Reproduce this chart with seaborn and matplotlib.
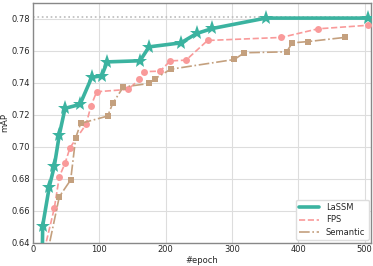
import matplotlib

matplotlib.use("Agg")
import matplotlib.pyplot as plt
import pandas as pd
import seaborn as sns

# epochs / mAP
lassm_epoch = [13, 14.6, 24.6, 32.2, 39.7, 48.3, 70.9, 88.5, 103.6, 112, 161.4, 175, 223, 247, 270.5, 351, 505.7]
lassm_map = [0.600, 0.6506, 0.675, 0.688, 0.7075, 0.724, 0.7265, 0.7434, 0.7444, 0.7531, 0.7538, 0.7625, 0.765, 0.7709, 0.774, 0.7805, 0.7805]

fps_epoch = [14, 32.1, 39.7, 48.3, 55.8, 80, 87.5, 96, 143.8, 160, 168, 191.6, 207, 230.8, 263.3, 374.5, 430, 505]
fps_map = [0.630, 0.6615, 0.6813, 0.6896, 0.6994, 0.714, 0.7256, 0.7344, 0.7359, 0.7421, 0.747, 0.7473, 0.7537, 0.7542, 0.7665, 0.7684, 0.7738, 0.776]

sem_epoch = [20, 39.7, 56.8, 64.4, 71.9, 112.6, 120.2, 136.2, 175.5, 183.5, 207.7, 303.6, 318.7, 382.6, 391, 414.6, 470]
sem_map = [0.630, 0.6688, 0.6792, 0.7056, 0.7146, 0.7192, 0.7271, 0.7374, 0.7396, 0.7425, 0.7485, 0.7546, 0.7588, 0.7594, 0.765, 0.7658, 0.7684]

best_map = 0.781

df = pd.concat([
    pd.DataFrame({"epoch": lassm_epoch, "mAP": lassm_map, "method": "LaSSM"}),
    pd.DataFrame({"epoch": fps_epoch, "mAP": fps_map, "method": "FPS"}),
    pd.DataFrame({"epoch": sem_epoch, "mAP": sem_map, "method": "Semantic"}),
])

sns.set_style("whitegrid")
plt.rcParams["font.family"] = ["DejaVu Sans"]

styles = {
    "LaSSM": dict(color="#3bb3a0", marker="*", markersize=11, lw=2.6, ls="-"),
    "FPS": dict(color="#f99a9a", marker="o", markersize=5, lw=1.2, ls="--"),
    "Semantic": dict(color="#c4a07e", marker="s", markersize=5, lw=1.2, ls="-."),
}

fig, ax = plt.subplots(figsize=(3.73, 2.66), dpi=100)
ax.axhline(best_map, color="#bbbbbb", lw=1.2, ls=":", zorder=1)

for name, st in styles.items():
    sub = df[df["method"] == name]
    sns.lineplot(data=sub, x="epoch", y="mAP", ax=ax, sort=False, color=st["color"],
                 linewidth=st["lw"], linestyle=st["ls"], marker=st["marker"],
                 markersize=st["markersize"], markeredgewidth=0, label=name, zorder=3)

ax.set_xlim(0, 510)
ax.set_ylim(0.64, 0.79)
ax.set_xticks([0, 100, 200, 300, 400, 500])
ax.set_yticks([0.64, 0.66, 0.68, 0.70, 0.72, 0.74, 0.76, 0.78])
ax.set_yticklabels([f"{v:.2f}" for v in ax.get_yticks()])
ax.tick_params(labelsize=6, pad=2, length=0)
ax.set_xlabel("#epoch", fontsize=6, labelpad=1)
ax.set_ylabel("mAP", fontsize=6, labelpad=2)
ax.grid(color="#dddddd", lw=0.8)
for s in ax.spines.values():
    s.set_color("#888888")
    s.set_linewidth(1.0)

handles = [
    plt.Line2D([], [], color=styles["LaSSM"]["color"], lw=2.6, ls="-"),
    plt.Line2D([], [], color=styles["FPS"]["color"], lw=1.2, ls="--"),
    plt.Line2D([], [], color=styles["Semantic"]["color"], lw=1.2, ls="-."),
]
ax.legend(handles, ["LaSSM", "FPS", "Semantic"], loc="lower right", fontsize=6,
          frameon=True, framealpha=1, edgecolor="#dddddd", handlelength=2.4,
          borderaxespad=0.3, labelspacing=0.4)

fig.subplots_adjust(left=0.0885, right=0.995, top=0.989, bottom=0.088)
fig.savefig("out.png", dpi=100)
